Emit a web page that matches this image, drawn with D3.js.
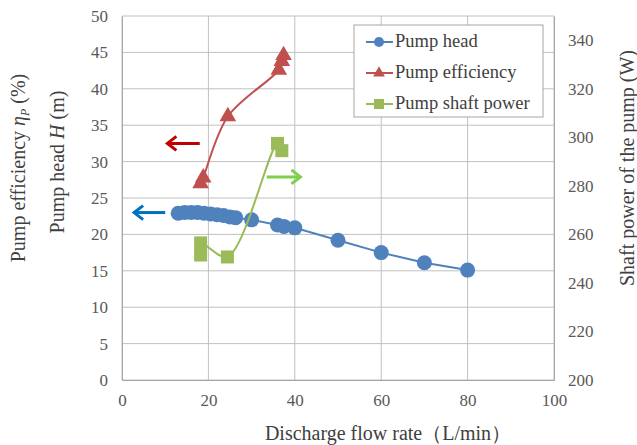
<!DOCTYPE html>
<html>
<head>
<meta charset="utf-8">
<script src="https://cdn.jsdelivr.net/npm/d3@7"></script>
<style>
  body { margin: 0; background: #fff; }
</style>
</head>
<body>
<div id="chart"></div>
<script>
var flowHead = [13, 14.5, 16, 17.5, 19, 20.5, 22, 23.5, 25, 26.3, 30, 36, 37.5, 40, 50, 60, 70, 80];
var head     = [22.9, 23.0, 23.0, 23.0, 22.9, 22.8, 22.7, 22.6, 22.4, 22.3, 22.0, 21.3, 21.1, 20.9, 19.2, 17.5, 16.1, 15.1];

var flowEff = [18.2, 18.8, 24.5, 36.3, 37.0, 37.4];
var eff     = [27.0, 27.8, 36.2, 42.6, 43.8, 44.6];

var flowPower = [18.2, 18.2, 24.4, 36.0, 37.0];
var power     = [251.5, 256.5, 250.7, 297.5, 294.5];

var xTicks = [0, 20, 40, 60, 80, 100];
var yLeftTicks = [0, 5, 10, 15, 20, 25, 30, 35, 40, 45, 50];
var yRightTicks = [200, 220, 240, 260, 280, 300, 320, 340];

var seriesNames = ["Pump head", "Pump efficiency", "Pump shaft power"];
var colors = ["#4f81bd", "#c0504d", "#9bbb59"];

var FONT = "Liberation Serif";
var w = 637, h = 445;
var margin = {left: 122, right: 83, top: 16, bottom: 65};

var svg = d3.select("#chart").append("svg")
    .attr("width", w)
    .attr("height", h)
    .attr("font-family", FONT);

var x = d3.scaleLinear().domain([0, 100]).range([margin.left, w - margin.right]);
var yL = d3.scaleLinear().domain([0, 50]).range([h - margin.bottom, margin.top]);
var yR = d3.scaleLinear().domain([200, 350]).range([h - margin.bottom, margin.top]);

// gridlines
svg.append("g").selectAll("line.h")
  .data(yLeftTicks)
  .enter().append("line")
  .attr("x1", x(0)).attr("x2", x(100))
  .attr("y1", function(d) { return yL(d); })
  .attr("y2", function(d) { return yL(d); })
  .attr("stroke", "#c0c0c0").attr("stroke-width", 1);
svg.append("g").selectAll("line.v")
  .data(xTicks)
  .enter().append("line")
  .attr("x1", function(d) { return x(d); })
  .attr("x2", function(d) { return x(d); })
  .attr("y1", yL(0)).attr("y2", yL(50))
  .attr("stroke", "#c0c0c0").attr("stroke-width", 1);

// axes
var axX = svg.append("g")
  .attr("transform", "translate(0," + yL(0) + ")")
  .call(d3.axisBottom(x).tickValues(xTicks).tickSize(0).tickPadding(14));
var axL = svg.append("g")
  .attr("transform", "translate(" + x(0) + ",0)")
  .call(d3.axisLeft(yL).tickValues(yLeftTicks).tickSize(0).tickPadding(14));
var axR = svg.append("g")
  .attr("transform", "translate(" + x(100) + ",0)")
  .call(d3.axisRight(yR).tickValues(yRightTicks).tickSize(0).tickPadding(14));
[axX, axL, axR].forEach(function(a) {
  a.attr("font-family", FONT).attr("font-size", 17);
  a.select(".domain").attr("stroke", "#a6a6a6");
  a.selectAll("text")
    .attr("font-family", FONT)
    .attr("font-size", 17)
    .attr("fill", "#595959");
});

// series
function series(xs, ys, yScale, color, curve) {
  var pts = xs.map(function(v, i) { return [x(v), yScale(ys[i])]; });
  svg.append("path")
    .attr("d", d3.line().curve(curve)(pts))
    .attr("fill", "none")
    .attr("stroke", color)
    .attr("stroke-width", 2);
  return pts;
}

var headPts = series(flowHead, head, yL, colors[0], d3.curveLinear);
svg.append("g").selectAll("circle")
  .data(headPts)
  .enter().append("circle")
  .attr("cx", function(d) { return d[0]; })
  .attr("cy", function(d) { return d[1]; })
  .attr("r", 7.5)
  .attr("fill", colors[0]);

var effPts = series(flowEff, eff, yL, colors[1], d3.curveCatmullRom);
var tri = d3.symbol().type(d3.symbolTriangle).size(120);
svg.append("g").selectAll("path")
  .data(effPts)
  .enter().append("path")
  .attr("d", tri)
  .attr("transform", function(d) { return "translate(" + d[0] + "," + d[1] + ")"; })
  .attr("fill", colors[1]);

var powPts = series(flowPower, power, yR, colors[2], d3.curveCatmullRom);
svg.append("g").selectAll("rect")
  .data(powPts)
  .enter().append("rect")
  .attr("x", function(d) { return d[0] - 6.5; })
  .attr("y", function(d) { return d[1] - 6.5; })
  .attr("width", 13).attr("height", 13)
  .attr("fill", colors[2]);

// arrows pointing at the axis each curve belongs to
var arrows = [
  {from: [10, 23], to: [2.8, 23], color: "#0070c0"},
  {from: [18, 32.5], to: [10.5, 32.5], color: "#c00000"},
  {from: [33.5, 27.9], to: [41.3, 27.9], color: "#7ed04b"}
];
arrows.forEach(function(a) {
  var x1 = x(a.from[0]), y1 = yL(a.from[1]), x2 = x(a.to[0]), y2 = yL(a.to[1]);
  var dir = x2 > x1 ? -1 : 1;
  svg.append("line")
    .attr("x1", x1).attr("y1", y1).attr("x2", x2).attr("y2", y2)
    .attr("stroke", a.color).attr("stroke-width", 3);
  svg.append("path")
    .attr("d", "M" + (x2 + dir * 9) + "," + (y2 - 7) + "L" + x2 + "," + y2 + "L" + (x2 + dir * 9) + "," + (y2 + 7))
    .attr("fill", "none").attr("stroke", a.color).attr("stroke-width", 3);
});

// legend
var lg = svg.append("g");
lg.append("rect")
  .attr("x", 354).attr("y", 25).attr("width", 189).attr("height", 92)
  .attr("fill", "#fff").attr("stroke", "#a6a6a6");
seriesNames.forEach(function(name, i) {
  var ly = 42 + i * 31;
  lg.append("line").attr("x1", 366).attr("x2", 393).attr("y1", ly).attr("y2", ly)
    .attr("stroke", colors[i]).attr("stroke-width", 2);
  if (i == 0) {
    lg.append("circle").attr("cx", 379).attr("cy", ly).attr("r", 5).attr("fill", colors[i]);
  } else if (i == 1) {
    lg.append("path").attr("d", d3.symbol().type(d3.symbolTriangle).size(60))
      .attr("transform", "translate(379," + ly + ")").attr("fill", colors[i]);
  } else {
    lg.append("rect").attr("x", 374).attr("y", ly - 5).attr("width", 10).attr("height", 10)
      .attr("fill", colors[i]);
  }
  lg.append("text").attr("x", 395).attr("y", ly + 5)
    .attr("font-family", FONT).attr("font-size", 18.5).attr("fill", "#404040")
    .text(name);
});

// axis titles
function title(tx, ty, rot) {
  return svg.append("text")
    .attr("transform", "translate(" + tx + "," + ty + ")" + (rot ? " rotate(-90)" : ""))
    .attr("text-anchor", "middle")
    .attr("fill", "#404040")
    .attr("font-family", FONT)
    .attr("font-size", 20);
}

title(388, 440, false)
  .text("Discharge flow rate\uFF08L/min\uFF09");

var t1 = title(25, 168, true);
t1.append("tspan").text("Pump efficiency  ");
t1.append("tspan").attr("font-style", "italic").text("\u03B7");
t1.append("tspan").attr("font-style", "italic").attr("font-size", 12).attr("dy", 4).text("P");
t1.append("tspan").attr("dy", -4).text(" (%)");

var t2 = title(64, 162, true);
t2.append("tspan").text("Pump head  ");
t2.append("tspan").attr("font-style", "italic").text("H");
t2.append("tspan").text(" (m)");

title(634, 168, true).text("Shaft power of the pump (W)");
</script>
</body>
</html>
